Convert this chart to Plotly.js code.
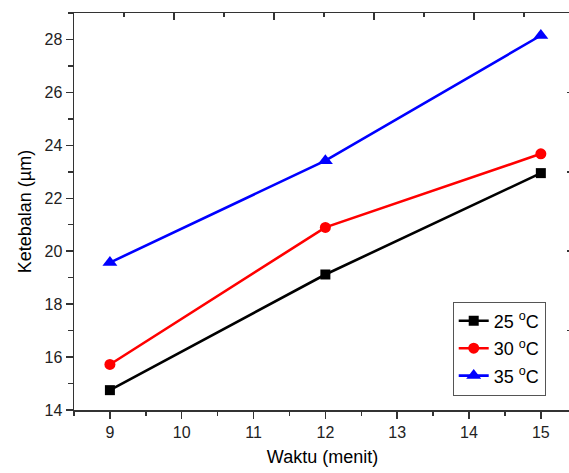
<!DOCTYPE html>
<html>
<head>
<meta charset="utf-8">
<script src="https://cdn.plot.ly/plotly-3.0.1.min.js"></script>
<style>
html,body{margin:0;padding:0;overflow:hidden;background:#fff;}
#chart{width:572px;height:473px;}
</style>
</head>
<body>
<div id="chart"></div>
<script>
const waktu = [9, 12, 15];
const t25 = [14.75, 19.12, 22.95];
const t30 = [15.72, 20.9, 23.68];
const t35 = [19.57, 23.42, 28.15];
const seriesNames = ['25 <sup>o</sup>C', '30 <sup>o</sup>C', '35 <sup>o</sup>C'];

const font = 'Liberation Sans, Arial, sans-serif';
const axColor = '#333';

function tr(y, name, color, symbol, size, grp) {
  return {
    x: waktu, y: y, name: name, type: 'scatter', mode: 'lines+markers',
    line: {color: color, width: 2.6},
    marker: {color: color, symbol: symbol, size: size},
    legendgroup: grp
  };
}

const data = [
  tr(t25, seriesNames[0], '#000000', 'square', 10, 'a'),
  tr(t30, seriesNames[1], '#ff0000', 'circle', 11, 'b'),
  tr(t35, seriesNames[2], '#0000ff', 'triangle-up', 13, 'c')
];

const layout = {
  width: 572, height: 473,
  margin: {l: 74, r: 1, t: 13, b: 63},
  paper_bgcolor: '#fff', plot_bgcolor: '#fff',
  font: {family: font, color: '#000', size: 16},
  showlegend: true,
  legend: {
    x: 0.762, y: 0.273, xanchor: 'left', yanchor: 'top',
    bordercolor: '#555', borderwidth: 1, bgcolor: '#fff',
    font: {family: font, size: 18, color: '#000'},
    traceorder: 'grouped', tracegroupgap: 1
  },
  xaxis: {
    range: [8.5, 15.42], tick0: 9, dtick: 1, ticks: 'outside', ticklen: 7, tickwidth: 1.5,
    tickcolor: axColor, showline: true, linecolor: axColor, linewidth: 1.5,
    showgrid: false, zeroline: false,
    minor: {dtick: 0.5, tick0: 8.5, ticks: 'outside', ticklen: 4, tickwidth: 1.5, tickcolor: axColor, showgrid: false},
    tickfont: {size: 16, color: '#222'},
    title: {text: 'Waktu (menit)', font: {size: 18}, standoff: 10},
    automargin: false
  },
  yaxis: {
    range: [14, 29], tick0: 14, dtick: 2, ticks: 'outside', ticklen: 7, tickwidth: 1.5,
    tickcolor: axColor, showline: true, linecolor: axColor, linewidth: 1.5,
    showgrid: false, zeroline: false,
    minor: {dtick: 1, tick0: 14, ticks: 'outside', ticklen: 5, tickwidth: 1.5, tickcolor: axColor, showgrid: false},
    tickfont: {size: 16, color: '#222'},
    title: {text: 'Ketebalan (µm)', font: {size: 18}, standoff: 8},
    automargin: false
  },
  xaxis2: {
    overlaying: 'x', side: 'top', range: [0, 9.94], tick0: 0, dtick: 2,
    ticks: 'inside', ticklen: 7, tickwidth: 1.5, tickcolor: axColor,
    showticklabels: false, showline: true, linecolor: axColor, linewidth: 1.5,
    showgrid: false, zeroline: false,
    minor: {dtick: 1, tick0: 0, ticks: 'inside', ticklen: 4, tickwidth: 1.5, tickcolor: axColor, showgrid: false}
  },
  yaxis2: {
    overlaying: 'y', side: 'right', range: [0, 5], tick0: 0, dtick: 1,
    ticks: 'inside', ticklen: 4, tickwidth: 1.5, tickcolor: axColor,
    showticklabels: false, showline: true, linecolor: axColor, linewidth: 1.5,
    showgrid: false, zeroline: false
  }
};

// invisible helper trace to activate the secondary axes
data.push({x: [0], y: [0], xaxis: 'x2', yaxis: 'y2', mode: 'markers', marker: {opacity: 0}, showlegend: false, hoverinfo: 'skip'});

Plotly.newPlot('chart', data, layout, {displayModeBar: false, staticPlot: true});
</script>
</body>
</html>
